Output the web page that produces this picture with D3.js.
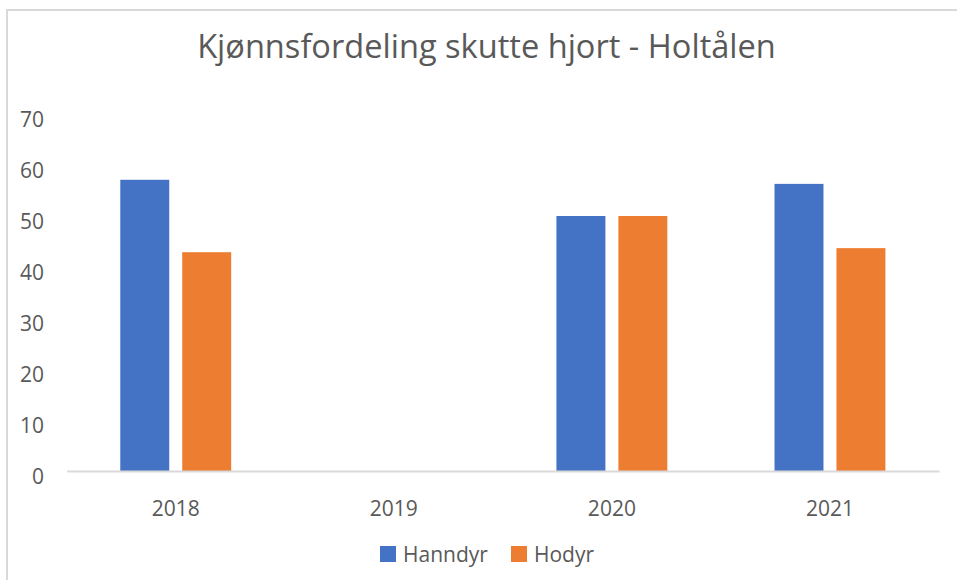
<!DOCTYPE html>
<html>
  <head>
    <title>Kjønnsfordeling skutte hjort</title>
    <script src="https://d3js.org/d3.v7.min.js"></script>
    <style>
      body {
        margin: 0;
        background-color: white;
        font-family: "Open Sans", sans-serif;
      }
    </style>
  </head>
  <body>
    <script>
      const years = ['2018', '2019', '2020', '2021'];
      const seriesNames = ['Hanndyr', 'Hodyr'];
      const hanndyr = [57.1, null, 50, 56.3];
      const hodyr = [42.9, null, 50, 43.7];
      const yTicks = [0, 10, 20, 30, 40, 50, 60, 70];
      const colors = ['#4472c4', '#ed7d31'];

      const w = 957;
      const h = 580;
      const textColor = '#595959';

      const svg = d3.select('body')
                    .append('svg')
                    .attr('width', w)
                    .attr('height', h);

      // chart frame (only top and left edges are visible in the crop)
      svg.append('line')
         .attr('x1', 7).attr('y1', 10).attr('x2', w).attr('y2', 10)
         .attr('stroke', '#d9d9d9').attr('stroke-width', 2);
      svg.append('line')
         .attr('x1', 7).attr('y1', 9).attr('x2', 7).attr('y2', h)
         .attr('stroke', '#d9d9d9').attr('stroke-width', 2);

      // title, sized to the width it has in the original
      const title = svg.append('text')
                       .attr('x', 486.5)
                       .attr('y', 58)
                       .attr('text-anchor', 'middle')
                       .style('fill', textColor)
                       .style('font-size', '32px')
                       .text('Kjønnsfordeling skutte hjort - Holtålen');
      const tw = title.node().getComputedTextLength();
      title.style('font-size', (32 * 579 / tw) + 'px');

      const x = d3.scaleBand()
                  .domain(years)
                  .range([66.7, 939]);

      const xInner = d3.scaleBand()
                       .domain(seriesNames)
                       .range([0, x.bandwidth()])
                       .paddingInner(13 / 62)
                       .paddingOuter(0.865);

      const y = d3.scaleLinear()
                  .domain([0, 70])
                  .range([471, 114]);

      // y axis labels, no line
      const yAxis = svg.append('g')
                       .attr('transform', 'translate(44,0)')
                       .call(d3.axisLeft(y).tickValues(yTicks).tickSize(0).tickPadding(0));
      yAxis.select('.domain').remove();
      yAxis.selectAll('text')
           .attr('dy', '12.5')
           .style('font-family', '"Open Sans", sans-serif')
           .style('font-size', '21px')
           .style('fill', textColor);

      const data = years.map((yr, i) => ({year: yr, values: [hanndyr[i], hodyr[i]]}));

      const groups = svg.selectAll('.group')
                        .data(data)
                        .enter()
                        .append('g')
                        .attr('class', 'group')
                        .attr('transform', d => `translate(${x(d.year)},0)`);

      groups.selectAll('rect')
            .data(d => d.values.map((v, j) => ({name: seriesNames[j], value: v, color: colors[j]})).filter(e => e.value !== null))
            .enter()
            .append('rect')
            .attr('x', d => xInner(d.name))
            .attr('width', xInner.bandwidth())
            .attr('y', d => y(d.value))
            .attr('height', d => y(0) - y(d.value))
            .style('fill', d => d.color);

      // x axis
      const xAxis = svg.append('g')
                       .attr('transform', `translate(0,${y(0)})`)
                       .call(d3.axisBottom(x).tickSize(0).tickPadding(0));
      xAxis.select('.domain')
           .attr('stroke', '#d9d9d9')
           .attr('stroke-width', 2);
      xAxis.selectAll('text')
           .attr('dy', '44.5')
           .style('font-family', '"Open Sans", sans-serif')
           .style('font-size', '21px')
           .style('fill', textColor);

      // legend
      const legendX = [380, 511];
      const legend = svg.selectAll('.legend')
                        .data(seriesNames)
                        .enter()
                        .append('g')
                        .attr('class', 'legend')
                        .attr('transform', (d, i) => `translate(${legendX[i]},546)`);
      legend.append('rect')
            .attr('width', 16)
            .attr('height', 16)
            .style('fill', (d, i) => colors[i]);
      legend.append('text')
            .attr('x', 23)
            .attr('y', 16)
            .style('font-size', '21px')
            .style('fill', textColor)
            .text(d => d);
    </script>
  </body>
</html>
